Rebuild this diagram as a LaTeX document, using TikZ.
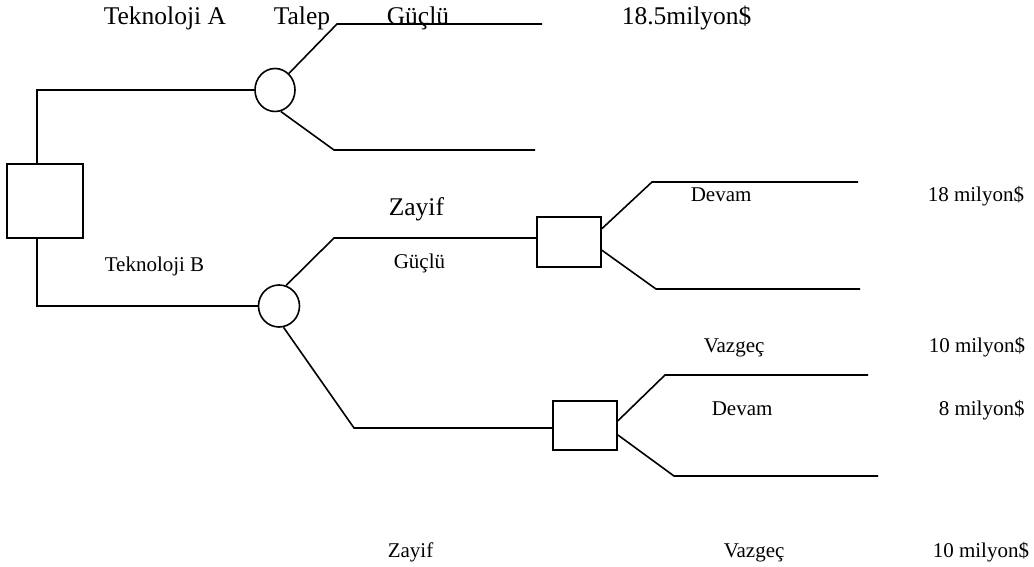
\documentclass[tikz,border=0pt]{standalone}
\usepackage{fontspec}
\setmainfont{Liberation Serif}
\usetikzlibrary{shapes.geometric}
\begin{document}
\begin{tikzpicture}[x=1pt,y=-1pt,line width=1.6pt,
  dbox/.style={draw,rectangle,inner sep=0pt},
  chance/.style={draw,ellipse,inner sep=0pt},
  lbig/.style={anchor=base west,inner sep=0pt,font=\fontsize{25.5}{28}\selectfont},
  lmid/.style={anchor=base west,inner sep=0pt,font=\fontsize{22}{25}\selectfont},
  lsmall/.style={anchor=base west,inner sep=0pt,font=\fontsize{21}{24}\selectfont}]
\useasboundingbox (0,0) rectangle (1034,567);

% decision and chance nodes
\node[dbox,minimum width=76pt,minimum height=74pt] (root) at (45,201) {};
\node[chance,minimum width=40pt,minimum height=43pt] (chA) at (275,90) {};
\node[chance,minimum width=41pt,minimum height=42pt] (chB) at (279,306) {};
\node[dbox,minimum width=64pt,minimum height=50pt] (box2) at (569,242) {};
\node[dbox,minimum width=64pt,minimum height=49pt] (box3) at (585,425.5) {};

% branch coordinates
\coordinate (a1) at (337,24);  \coordinate (a1e) at (542,24);
\coordinate (a2) at (334,150); \coordinate (a2e) at (535,150);
\coordinate (b1) at (334,238);
\coordinate (b2) at (354,428);
\coordinate (c1) at (652,182); \coordinate (c1e) at (858,182);
\coordinate (c2) at (656,289); \coordinate (c2e) at (860,289);
\coordinate (d1) at (665,375); \coordinate (d1e) at (868,375);
\coordinate (d2) at (674,476); \coordinate (d2e) at (878,476);

% connectors
\draw ([xshift=-8pt]root.north) |- (chA.west);
\draw ([xshift=-8pt]root.south) |- (chB.west);
\draw (chA.50) -- (a1) -- (a1e);
\draw (chA.-75) -- (a2) -- (a2e);
\draw (chB.71) -- (b1) -- (b1 -| box2.west);
\draw (chB.-78) -- (b2) -- (b2 -| box3.west);
\draw (box2.22) -- (c1) -- (c1e);
\draw (box2.-14) -- (c2) -- (c2e);
\draw (box3.8) -- (d1) -- (d1e);
\draw (box3.-16) -- (d2) -- (d2e);

% labels
\node[lbig] (tA) at (103,25) {Teknoloji A};
\node[lbig] (talep) at (273,25) {Talep};
\node[lbig] (g1) at (386,25) {Güçlü};
\node[lbig] (v1) at (621,25) {18.5milyon\$};
\node[lbig] (z1) at (388,215) {Zayif};
\node[lsmall] (g2) at (393,268) {Güçlü};
\node[lsmall] (tB) at (104,271) {Teknoloji B};
\node[lsmall] (dev1) at (690,201) {Devam};
\node[lsmall] (v2) at (927,201) {18 milyon\$};
\node[lsmall] (vz1) at (703,352) {Vazgeç};
\node[lsmall] (v3) at (928,352) {10 milyon\$};
\node[lsmall] (dev2) at (711,415) {Devam};
\node[lsmall] (v4) at (938,415) {8 milyon\$};
\node[lsmall] (z2) at (387,557) {Zayif};
\node[lsmall] (vz2) at (723,557) {Vazgeç};
\node[lsmall] (v5) at (932,557) {10 milyon\$};
\end{tikzpicture}
\end{document}
